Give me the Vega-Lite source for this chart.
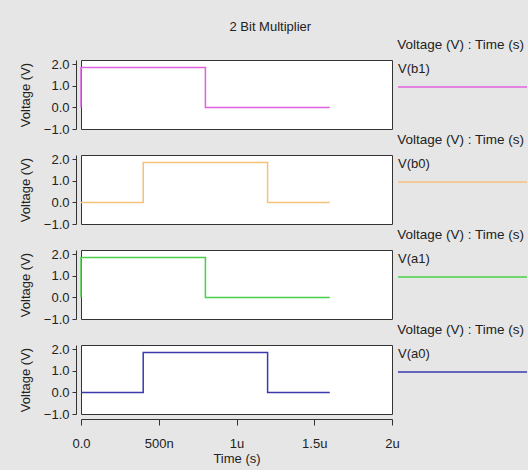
{
  "$schema": "https://vega.github.io/schema/vega-lite/v6.json",
  "background": "#e6e6e6",
  "padding": {"left": 18, "top": 20, "right": 0, "bottom": 4},
  "title": {"text": "2 Bit Multiplier", "fontSize": 13, "fontWeight": "normal", "color": "#222", "anchor": "middle", "offset": 4, "dx": -3},
  "datasets": {
    "waves": [
      {"signal": "V(b1)", "i": 0, "t": 0, "v": 0},
      {"signal": "V(b1)", "i": 1, "t": 0, "v": 1.85},
      {"signal": "V(b1)", "i": 2, "t": 800, "v": 1.85},
      {"signal": "V(b1)", "i": 3, "t": 800, "v": 0},
      {"signal": "V(b1)", "i": 4, "t": 1600, "v": 0},
      {"signal": "V(b0)", "i": 0, "t": 0, "v": 0},
      {"signal": "V(b0)", "i": 1, "t": 400, "v": 0},
      {"signal": "V(b0)", "i": 2, "t": 400, "v": 1.85},
      {"signal": "V(b0)", "i": 3, "t": 1200, "v": 1.85},
      {"signal": "V(b0)", "i": 4, "t": 1200, "v": 0},
      {"signal": "V(b0)", "i": 5, "t": 1600, "v": 0},
      {"signal": "V(a1)", "i": 0, "t": 0, "v": 0},
      {"signal": "V(a1)", "i": 1, "t": 0, "v": 1.85},
      {"signal": "V(a1)", "i": 2, "t": 800, "v": 1.85},
      {"signal": "V(a1)", "i": 3, "t": 800, "v": 0},
      {"signal": "V(a1)", "i": 4, "t": 1600, "v": 0},
      {"signal": "V(a0)", "i": 0, "t": 0, "v": 0},
      {"signal": "V(a0)", "i": 1, "t": 400, "v": 0},
      {"signal": "V(a0)", "i": 2, "t": 400, "v": 1.85},
      {"signal": "V(a0)", "i": 3, "t": 1200, "v": 1.85},
      {"signal": "V(a0)", "i": 4, "t": 1200, "v": 0},
      {"signal": "V(a0)", "i": 5, "t": 1600, "v": 0}
    ],
    "labels": [
      {"signal": "V(b1)"},
      {"signal": "V(b0)"},
      {"signal": "V(a1)"},
      {"signal": "V(a0)"}
    ]
  },
  "columns": 2,
  "spacing": {"row": 26, "column": 6},
  "bounds": "flush",
  "concat": [
    {
      "width": 311, "height": 69,
      "data": {"name": "waves"},
      "transform": [{"filter": "datum.signal == 'V(b1)'"}],
      "mark": {"type": "line", "strokeWidth": 1.5, "color": "#e060e0"},
      "encoding": {
        "x": {"field": "t", "type": "quantitative", "scale": {"domain": [0, 2000], "nice": false, "zero": false}, "axis": null},
        "y": {"field": "v", "type": "quantitative", "scale": {"domain": [-1, 2.2], "nice": false, "zero": false},
              "axis": {"values": [-1, 0, 1, 2], "format": ".1f", "title": "Voltage (V)", "offset": 5, "tickSize": 4, "labelPadding": 3, "titlePadding": 11}},
        "order": {"field": "i", "type": "quantitative"}
      }
    },
    {
      "width": 129, "height": 69,
      "view": {"stroke": null, "fill": null},
      "title": {"text": "Voltage (V) : Time (s)", "anchor": "start", "fontSize": 13.5, "fontWeight": "normal", "color": "#222", "offset": 9},
      "data": {"name": "labels"},
      "transform": [{"filter": "datum.signal == 'V(b1)'"}],
      "layer": [
        {"mark": {"type": "rule", "color": "#e060e0", "strokeWidth": 1.5},
         "encoding": {"y": {"datum": 0.61, "type": "quantitative", "scale": {"domain": [0, 1]}, "axis": null}}},
        {"mark": {"type": "text", "align": "left", "baseline": "middle", "fontSize": 13, "color": "#222"},
         "encoding": {"text": {"field": "signal"},
                      "x": {"datum": 0, "type": "quantitative", "scale": {"domain": [0, 1]}, "axis": null},
                      "y": {"datum": 0.87, "type": "quantitative", "scale": {"domain": [0, 1]}, "axis": null}}}
      ]
    },
    {
      "width": 311, "height": 69,
      "data": {"name": "waves"},
      "transform": [{"filter": "datum.signal == 'V(b0)'"}],
      "mark": {"type": "line", "strokeWidth": 1.5, "color": "#f5c27a"},
      "encoding": {
        "x": {"field": "t", "type": "quantitative", "scale": {"domain": [0, 2000], "nice": false, "zero": false}, "axis": null},
        "y": {"field": "v", "type": "quantitative", "scale": {"domain": [-1, 2.2], "nice": false, "zero": false},
              "axis": {"values": [-1, 0, 1, 2], "format": ".1f", "title": "Voltage (V)", "offset": 5, "tickSize": 4, "labelPadding": 3, "titlePadding": 11}},
        "order": {"field": "i", "type": "quantitative"}
      }
    },
    {
      "width": 129, "height": 69,
      "view": {"stroke": null, "fill": null},
      "title": {"text": "Voltage (V) : Time (s)", "anchor": "start", "fontSize": 13.5, "fontWeight": "normal", "color": "#222", "offset": 9},
      "data": {"name": "labels"},
      "transform": [{"filter": "datum.signal == 'V(b0)'"}],
      "layer": [
        {"mark": {"type": "rule", "color": "#f5c27a", "strokeWidth": 1.5},
         "encoding": {"y": {"datum": 0.61, "type": "quantitative", "scale": {"domain": [0, 1]}, "axis": null}}},
        {"mark": {"type": "text", "align": "left", "baseline": "middle", "fontSize": 13, "color": "#222"},
         "encoding": {"text": {"field": "signal"},
                      "x": {"datum": 0, "type": "quantitative", "scale": {"domain": [0, 1]}, "axis": null},
                      "y": {"datum": 0.87, "type": "quantitative", "scale": {"domain": [0, 1]}, "axis": null}}}
      ]
    },
    {
      "width": 311, "height": 69,
      "data": {"name": "waves"},
      "transform": [{"filter": "datum.signal == 'V(a1)'"}],
      "mark": {"type": "line", "strokeWidth": 1.5, "color": "#48d048"},
      "encoding": {
        "x": {"field": "t", "type": "quantitative", "scale": {"domain": [0, 2000], "nice": false, "zero": false}, "axis": null},
        "y": {"field": "v", "type": "quantitative", "scale": {"domain": [-1, 2.2], "nice": false, "zero": false},
              "axis": {"values": [-1, 0, 1, 2], "format": ".1f", "title": "Voltage (V)", "offset": 5, "tickSize": 4, "labelPadding": 3, "titlePadding": 11}},
        "order": {"field": "i", "type": "quantitative"}
      }
    },
    {
      "width": 129, "height": 69,
      "view": {"stroke": null, "fill": null},
      "title": {"text": "Voltage (V) : Time (s)", "anchor": "start", "fontSize": 13.5, "fontWeight": "normal", "color": "#222", "offset": 9},
      "data": {"name": "labels"},
      "transform": [{"filter": "datum.signal == 'V(a1)'"}],
      "layer": [
        {"mark": {"type": "rule", "color": "#48d048", "strokeWidth": 1.5},
         "encoding": {"y": {"datum": 0.61, "type": "quantitative", "scale": {"domain": [0, 1]}, "axis": null}}},
        {"mark": {"type": "text", "align": "left", "baseline": "middle", "fontSize": 13, "color": "#222"},
         "encoding": {"text": {"field": "signal"},
                      "x": {"datum": 0, "type": "quantitative", "scale": {"domain": [0, 1]}, "axis": null},
                      "y": {"datum": 0.87, "type": "quantitative", "scale": {"domain": [0, 1]}, "axis": null}}}
      ]
    },
    {
      "width": 311, "height": 69,
      "data": {"name": "waves"},
      "transform": [{"filter": "datum.signal == 'V(a0)'"}],
      "mark": {"type": "line", "strokeWidth": 1.5, "color": "#3a3aac"},
      "encoding": {
        "x": {"field": "t", "type": "quantitative", "scale": {"domain": [0, 2000], "nice": false, "zero": false},
              "axis": {"values": [0, 500, 1000, 1500, 2000], "labelExpr": "datum.value == 0 ? '0.0' : datum.value < 1000 ? datum.value + 'n' : (datum.value / 1000) + 'u'", "title": "Time (s)", "offset": 5, "tickSize": 6, "labelPadding": 12, "titlePadding": 2}},
        "y": {"field": "v", "type": "quantitative", "scale": {"domain": [-1, 2.2], "nice": false, "zero": false},
              "axis": {"values": [-1, 0, 1, 2], "format": ".1f", "title": "Voltage (V)", "offset": 5, "tickSize": 4, "labelPadding": 3, "titlePadding": 11}},
        "order": {"field": "i", "type": "quantitative"}
      }
    },
    {
      "width": 129, "height": 69,
      "view": {"stroke": null, "fill": null},
      "title": {"text": "Voltage (V) : Time (s)", "anchor": "start", "fontSize": 13.5, "fontWeight": "normal", "color": "#222", "offset": 9},
      "data": {"name": "labels"},
      "transform": [{"filter": "datum.signal == 'V(a0)'"}],
      "layer": [
        {"mark": {"type": "rule", "color": "#3a3aac", "strokeWidth": 1.5},
         "encoding": {"y": {"datum": 0.61, "type": "quantitative", "scale": {"domain": [0, 1]}, "axis": null}}},
        {"mark": {"type": "text", "align": "left", "baseline": "middle", "fontSize": 13, "color": "#222"},
         "encoding": {"text": {"field": "signal"},
                      "x": {"datum": 0, "type": "quantitative", "scale": {"domain": [0, 1]}, "axis": null},
                      "y": {"datum": 0.87, "type": "quantitative", "scale": {"domain": [0, 1]}, "axis": null}}}
      ]
    }
  ],
  "config": {
    "font": "Liberation Sans",
    "view": {"stroke": "#333", "fill": "white", "strokeWidth": 1},
    "axis": {
      "domainColor": "#333", "tickColor": "#333", "labelColor": "#222", "titleColor": "#222",
      "labelFontSize": 13, "titleFontSize": 13, "titleFontWeight": "normal",
      "grid": false, "labelFlush": false, "labelOverlap": false
    }
  }
}
